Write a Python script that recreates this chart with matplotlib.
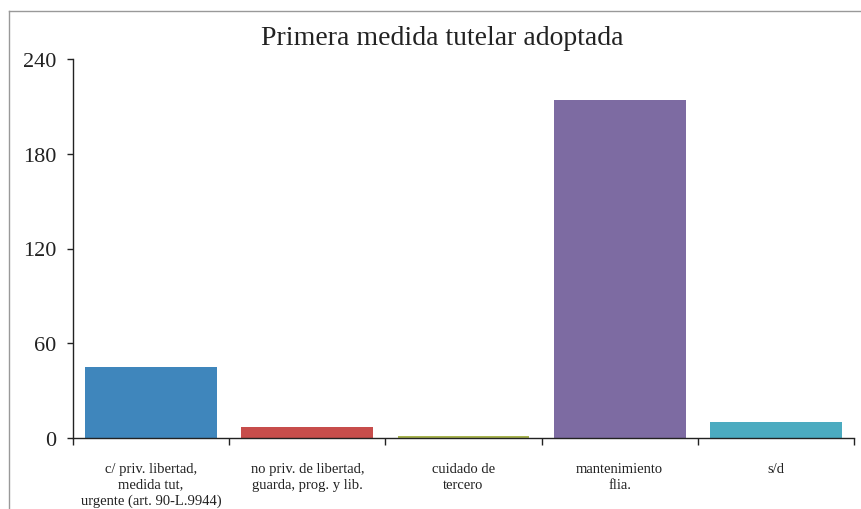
import matplotlib.pyplot as plt
from matplotlib.lines import Line2D

plt.rcParams['font.family'] = ['Liberation Serif', 'DejaVu Serif']

categorias = ["c/ priv. libertad,\nmedida tut,\nurgente (art. 90-L.9944)",
              "no priv. de libertad,\nguarda, prog. y lib.",
              "cuidado de\ntercero",
              "mantenimiento\nflia.",
              "s/d"]
valores = [45, 7, 1, 214, 10]
colores = ["#3F86BC", "#C74D4B", "#A8B450", "#7D6BA2", "#4BABC0"]
yticks = [0, 60, 120, 180, 240]

W, H = 862, 510
fig = plt.figure(figsize=(W/100, H/100), dpi=100)
ax = fig.add_axes([73/W, 1-439/H, (854-73)/W, (439-60)/H])

x = range(len(categorias))
ax.bar(x, valores, width=0.845, color=colores)
ax.set_xlim(-0.5, len(categorias)-0.5)
ax.set_ylim(0, 240)
ax.set_yticks(yticks)
ax.tick_params(axis='y', labelsize=16, length=4, width=1, pad=8, color='#222222', labelcolor='#222222')

ax.set_xticks(x)
ax.set_xticklabels(categorias, fontsize=10.5, linespacing=1.3, color='#222222')
ax.set_xticks([i-0.5 for i in range(len(categorias)+1)], minor=True)
ax.tick_params(axis='x', which='major', length=0, pad=17)
ax.tick_params(axis='x', which='minor', length=5, width=1, color='#222222')

for s in ['top', 'right']:
    ax.spines[s].set_visible(False)
for s in ['left', 'bottom']:
    ax.spines[s].set_color('#222222')
    ax.spines[s].set_linewidth(1)

fig.text(442/W, 1-45/H, "Primera medida tutelar adoptada", fontsize=20,
         ha='center', va='baseline', color='#222222')

# marco gris del gráfico
fig.add_artist(Line2D([9.5/W, 9.5/W], [0, 1-11.5/H], transform=fig.transFigure, color='#999999', lw=1))
fig.add_artist(Line2D([9.5/W, 1], [1-11.5/H, 1-11.5/H], transform=fig.transFigure, color='#999999', lw=1))

fig.savefig("out.png", dpi=100)
